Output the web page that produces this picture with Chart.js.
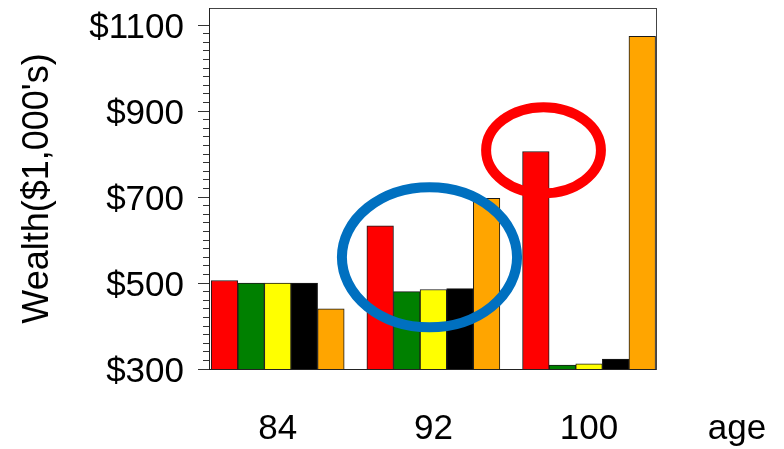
<!DOCTYPE html>
<html>
<head>
<meta charset="utf-8">
<script src="https://cdn.jsdelivr.net/npm/chart.js@4"></script>
<style>
  html, body { margin: 0; padding: 0; background: #fff; }
  #wrap { width: 784px; height: 449px; }
</style>
</head>
<body>
<div id="wrap"><canvas id="chart" width="784" height="449"></canvas></div>
<script>
// =============================
// Data
// =============================
const ages = [84, 92, 100];
const seriesNames = ["red", "green", "yellow", "black", "orange"];
const redValues = [506, 633, 806];
const greenValues = [500, 480, 309];
const yellowValues = [500, 485, 312];
const blackValues = [500, 487, 323];
const orangeValues = [440, 697, 1074];

const yMajorTicks = [300, 500, 700, 900, 1100];
const yMinorStep = 20;
const xTickValues = [84, 92, 100, 107.6];
const xTickLabels = ["84", "92", "100", "age"];
const yTitle = "Wealth($1,000's)";

// highlight rings: centre (age, wealth) and half-size in axis units
const ringAges = [91.8, 97.66];
const ringWealth = [560, 809];
const ringAgeRadius = [4.5, 2.95];
const ringWealthRadius = [163, 100];

// =============================
// Styles
// =============================
const barColors = ["#ff0000", "#008000", "#ffff00", "#000000", "#ffa500"];
const ringColors = ["#0070c0", "#ff0000"];

Chart.defaults.font.family = "'Liberation Sans', Arial, sans-serif";
Chart.defaults.color = "#000";

const allValues = [redValues, greenValues, yellowValues, blackValues, orangeValues];

const datasets = allValues.map((vals, s) => ({
  label: seriesNames[s],
  data: vals.map((v, i) => ({ x: ages[i], y: v })),
  backgroundColor: barColors[s],
  borderColor: "#1a1a1a",
  borderWidth: 1,
  barThickness: 26.6,
}));

const minorTicks = [];
for (let v = yMajorTicks[0]; v <= yMajorTicks[yMajorTicks.length - 1]; v += yMinorStep) {
  minorTicks.push({ value: v });
}

const ringPlugin = {
  id: "rings",
  afterDatasetsDraw(chart) {
    const { ctx } = chart;
    const x = chart.scales.x;
    const y = chart.scales.y;
    ctx.save();
    ctx.lineWidth = 10;
    ringAges.forEach((a, i) => {
      const cx = x.getPixelForValue(a);
      const cy = y.getPixelForValue(ringWealth[i]);
      const rx = Math.abs(x.getPixelForValue(a + ringAgeRadius[i]) - cx);
      const ry = Math.abs(y.getPixelForValue(ringWealth[i] + ringWealthRadius[i]) - cy);
      ctx.strokeStyle = ringColors[i];
      ctx.beginPath();
      ctx.ellipse(cx, cy, rx, ry, 0, 0, Math.PI * 2);
      ctx.stroke();
    });
    ctx.restore();
  },
};

const ctx = document.getElementById("chart").getContext("2d");
new Chart(ctx, {
  type: "bar",
  data: { datasets },
  plugins: [ringPlugin],
  options: {
    responsive: false,
    animation: false,
    devicePixelRatio: 1,
    layout: { padding: { left: 0, top: 8, right: 128, bottom: 0 } },
    plugins: { legend: { display: false }, tooltip: { enabled: false } },
    scales: {
      x: {
        type: "linear",
        position: "bottom",
        offset: false,
        min: 80.47,
        max: 103.44,
        afterBuildTicks: (s) => {
          s.ticks = xTickValues.map((v) => ({ value: v }));
        },
        afterFit: (s) => {
          s.height = 80;
          s.paddingLeft = 0;
          s.paddingRight = 0;
        },
        grid: { display: false, drawTicks: false, offset: false },
        border: { display: true, color: "#222", width: 1 },
        ticks: {
          autoSkip: false,
          maxRotation: 0,
          padding: 39,
          font: { size: 35 },
          callback: (v) => xTickLabels[xTickValues.indexOf(v)],
        },
      },
      xTop: {
        type: "linear",
        position: "top",
        ticks: { display: false },
        grid: { display: false, drawTicks: false },
        border: { display: true, color: "#444" },
      },
      y: {
        type: "linear",
        position: "left",
        weight: 1,
        min: 300,
        max: 1140,
        afterBuildTicks: (s) => {
          s.ticks = yMajorTicks.map((v) => ({ value: v }));
        },
        afterFit: (s) => {
          s.width = 209;
          s.paddingTop = 0;
          s.paddingBottom = 0;
        },
        grid: { drawOnChartArea: false, tickLength: 11, color: "#333" },
        border: { color: "#222" },
        ticks: {
          autoSkip: false,
          padding: 14,
          labelOffset: 3,
          font: { size: 35 },
          callback: (v) => "$" + v,
        },
        title: {
          display: true,
          text: yTitle,
          font: { size: 36 },
          padding: { top: 16, bottom: 0 },
        },
      },
      yMinor: {
        type: "linear",
        position: "left",
        weight: 0,
        min: 300,
        max: 1140,
        afterBuildTicks: (s) => {
          s.ticks = minorTicks.slice();
        },
        afterFit: (s) => {
          s.width = 0;
        },
        ticks: { display: false },
        grid: { drawOnChartArea: false, tickLength: 6, color: "#333" },
        border: { display: false },
      },
      yRight: {
        type: "linear",
        position: "right",
        ticks: { display: false },
        grid: { display: false, drawTicks: false },
        border: { display: true, color: "#444" },
      },
    },
  },
});
</script>
</body>
</html>
